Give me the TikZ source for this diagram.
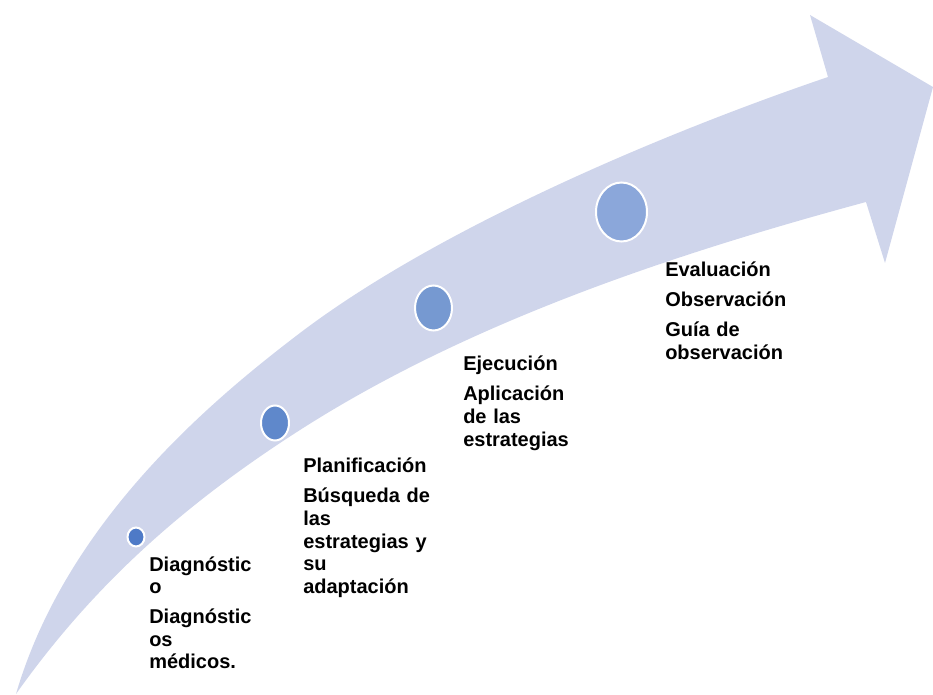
\documentclass[tikz,border=0pt]{standalone}
\usepackage{fontspec}
\setmainfont{Liberation Sans}
\usetikzlibrary{shapes.geometric}
\definecolor{bandcol}{RGB}{207,213,235}
\definecolor{dotA}{RGB}{78,122,199}
\definecolor{dotB}{RGB}{95,136,203}
\definecolor{dotC}{RGB}{118,153,209}
\definecolor{dotD}{RGB}{139,167,218}
\tikzset{
  dot/.style={ellipse, draw=white, line width=1.5pt, inner sep=0pt},
  lbl/.style={anchor=base west, inner sep=0pt, text width=150pt, align=left,
    font=\fontsize{15}{16.9}\selectfont\bfseries}
}
\begin{document}
\begin{tikzpicture}[x=0.75pt,y=-0.75pt]
\useasboundingbox (0,0) rectangle (933,695);
\fill[bandcol] (16,694) .. controls (66.4,521.2) and (212.4,399.6) .. (300,333)
  .. controls (435.3,230.2) and (657.5,135) .. (828,77)
  -- (810,15) -- (933,87) -- (885,263) -- (866,202)
  .. controls (673,254.2) and (468.4,322.2) .. (300,430)
  .. controls (190.5,500.1) and (96.9,579.8) .. (16,694) -- cycle;
\node[dot, fill=dotA, minimum width=12.75pt, minimum height=14.25pt] (c1) at (136,537) {};
\node[dot, fill=dotB, minimum width=21pt, minimum height=26.25pt] (c2) at (275,423) {};
\node[dot, fill=dotC, minimum width=27.75pt, minimum height=33.75pt] (c3) at (433.5,308) {};
\node[dot, fill=dotD, minimum width=38.25pt, minimum height=44.25pt] (c4) at (621.5,212) {};
\node[lbl] (l1) at (149,571) {Diagnóstic\\o\\[5.6pt]Diagnóstic\\os\\médicos.};
\node[lbl] (l2) at (303,473) {Planificación\\[5.6pt]Búsqueda de\\las\\estrategias y\\su\\adaptación};
\node[lbl] (l3) at (463,371) {Ejecución\\[5.6pt]Aplicación\\de las\\estrategias};
\node[lbl] (l4) at (665,277) {Evaluación\\[5.6pt]Observación\\[5.6pt]Guía de\\observación};
\end{tikzpicture}
\end{document}
